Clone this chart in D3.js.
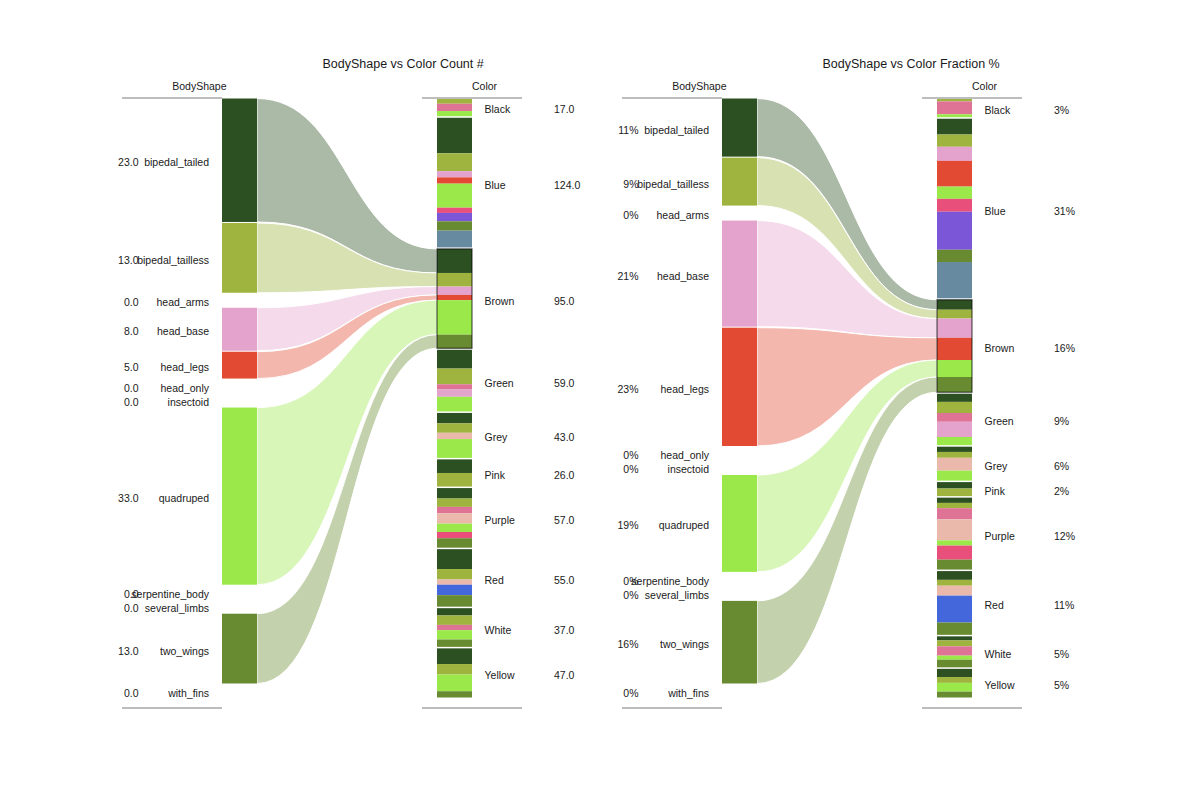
<!DOCTYPE html>
<html><head><meta charset="utf-8">
<script src="https://cdn.jsdelivr.net/npm/d3@7"></script>
<style>
body{margin:0;background:#fff;}
text{font-family:"Liberation Sans",Arial,Helvetica,sans-serif;fill:#1a1a1a;}
</style></head>
<body><svg id="c" width="1188" height="810"></svg>
<script>
// ---------- DATA ----------
const bodyShapes = ["bipedal_tailed","bipedal_tailless","head_arms","head_base","head_legs","head_only","insectoid","quadruped","serpentine_body","several_limbs","two_wings","with_fins"];
const shapeColors = ["#2d5023","#9eb43f","#de7396","#e3a3cd","#e24a33","#ebb8ac","#4567dc","#9be84b","#e94f7b","#7b56d6","#688b31","#678aa0"];
const colorNames = ["Black","Blue","Brown","Green","Grey","Pink","Purple","Red","White","Yellow"];
const highlightColor = "Brown";

// counts per colour, columns in bodyShapes order
const countRows = [
  [0,5,7,0,0,0,0,5,0,0,0,0],        // Black
  [34,17,0,6,6,0,0,23,5,8,9,16],    // Blue
  [23,13,0,8,5,0,0,33,0,0,13,0],    // Brown
  [18,15,5,7,0,0,0,14,0,0,0,0],     // Green
  [10,9,0,0,0,6,0,18,0,0,0,0],      // Grey
  [13,13,0,0,0,0,0,0,0,0,0,0],      // Pink
  [10,8,6,0,0,10,0,8,6,0,9,0],      // Purple
  [19,10,0,0,0,5,10,0,0,0,11,0],    // Red
  [7,9,5,0,0,0,0,9,0,0,7,0],        // White
  [15,10,0,0,0,0,0,16,0,0,6,0]      // Yellow
];
const countLeft = [23,13,0,8,5,0,0,33,0,0,13,0];

// fractions (%) per colour, columns in bodyShapes order
const fracRows = [
  [0,0.5,2.2,0,0,0,0,0.5,0,0,0,0],
  [2.7,2.1,0,2.4,4.4,0,0,2.1,2.2,6.5,2.1,6.2],
  [1.7,1.5,0,3.3,3.8,0,0,2.9,0,0,2.6,0],
  [1.4,1.9,1.5,2.6,0,0,0,1.4,0,0,0,0],
  [0.9,1.0,0,0,0,2.2,0,1.7,0,0,0,0],
  [1.1,1.3,0,0,0,0,0,0,0,0,0,0],
  [0.9,0.9,1.9,0,0,3.6,0,0.9,2.4,0,1.7,0],
  [1.5,1.0,0,0,0,1.7,4.6,0,0,0,2.1,0],
  [0.7,1.0,1.6,0,0,0,0,0.7,0,0,1.3,0],
  [1.4,1.0,0,0,0,0,0,1.5,0,0,1.0,0]
];
const fracLeft = [11.4,9.4,0,20.8,23.2,0,0,19.0,0,0,16.2,0];

// ---------- DRAW ----------
const svg = d3.select("#c");
const shapeColor = d3.scaleOrdinal().domain(bodyShapes).range(shapeColors);

function panel(ox, title, leftVals, rows, fmt){
  const g = svg.append("g").attr("transform", `translate(${ox},0)`);
  const top = 98.5, bottom = 697.5;
  const lx0 = 222, lx1 = 257, rx0 = 437, rx1 = 472;

  // left column layout
  const zeroH = 13, lgap = 1;
  const nZero = leftVals.filter(v => v === 0).length;
  const lTotal = d3.sum(leftVals);
  const lk = d3.scaleLinear().domain([0, lTotal])
    .range([0, (bottom - top) - nZero*zeroH - (leftVals.length-1)*lgap]);
  let y = top;
  const leftBoxes = leftVals.map((v,i) => {
    const h = v === 0 ? zeroH : lk(v);
    const b = {i, v, y0: y, y1: y + h};
    y += h + lgap;
    return b;
  });

  // right column layout
  const rgap = 1.5;
  const totals = rows.map(r => d3.sum(r));
  const rk = d3.scaleLinear().domain([0, d3.sum(totals)])
    .range([0, (bottom - top) - (rows.length-1)*rgap]);
  let yy = top;
  const rightBoxes = rows.map((r,ci) => {
    const b = {ci, y0: yy, y1: yy + rk(totals[ci]), segs: []};
    let s = yy;
    r.forEach((v,i) => { if (v > 0) { b.segs.push({i, y0: s, y1: s + rk(v)}); s += rk(v); } });
    yy = b.y1 + rgap;
    return b;
  });
  const hi = rightBoxes[colorNames.indexOf(highlightColor)];

  // flows
  const xm = (lx1 + rx0) / 2;
  hi.segs.forEach(s => {
    const lb = leftBoxes[s.i];
    const p = d3.path();
    p.moveTo(lx1, lb.y0);
    p.bezierCurveTo(xm, lb.y0, xm, s.y0, rx0, s.y0);
    p.lineTo(rx0, s.y1);
    p.bezierCurveTo(xm, s.y1, xm, lb.y1, lx1, lb.y1);
    p.closePath();
    g.append("path").attr("d", p.toString())
      .attr("fill", shapeColor(bodyShapes[s.i])).attr("fill-opacity", 0.4)
      .attr("stroke", "#fff").attr("stroke-width", 1);
  });

  // left bars
  leftBoxes.filter(b => b.v > 0).forEach(b => {
    g.append("rect").attr("x", lx0).attr("y", b.y0).attr("width", lx1 - lx0)
      .attr("height", b.y1 - b.y0).attr("fill", shapeColor(bodyShapes[b.i]));
  });
  // left labels
  leftBoxes.forEach(b => {
    const cy = (b.y0 + b.y1) / 2 + 6;
    g.append("text").attr("x", 138.5).attr("y", cy).attr("text-anchor","end")
      .style("font-size","10.5px").text(fmt(b.v));
    g.append("text").attr("x", 209).attr("y", cy).attr("text-anchor","end")
      .style("font-size","10.5px").text(bodyShapes[b.i]);
  });

  // right stacked bars
  rightBoxes.forEach(b => {
    b.segs.forEach(s => {
      g.append("rect").attr("x", rx0).attr("y", s.y0).attr("width", rx1 - rx0)
        .attr("height", s.y1 - s.y0).attr("fill", shapeColor(bodyShapes[s.i]));
    });
    const cy = (b.y0 + b.y1) / 2 + 6;
    g.append("text").attr("x", 484.5).attr("y", cy).style("font-size","10.5px").text(colorNames[b.ci]);
    g.append("text").attr("x", 554).attr("y", cy).style("font-size","10.5px").text(fmt(totals[b.ci]));
  });
  g.append("rect").attr("x", rx0).attr("y", hi.y0).attr("width", rx1 - rx0)
    .attr("height", hi.y1 - hi.y0).attr("fill","none")
    .attr("stroke","#000").attr("stroke-opacity",0.65).attr("stroke-width",1.2);

  // axis lines
  [[122,222],[422,522]].forEach(([a,c]) => {
    [98, 708].forEach(yl => {
      g.append("line").attr("x1",a).attr("x2",c).attr("y1",yl).attr("y2",yl)
        .attr("stroke","#bdbdbd").attr("stroke-width",2);
    });
  });
  // headers
  g.append("text").attr("x",199.4).attr("y",90).attr("text-anchor","middle").style("font-size","10.5px").text("BodyShape");
  g.append("text").attr("x",484.5).attr("y",90).attr("text-anchor","middle").style("font-size","10.5px").text("Color");
  g.append("text").attr("x",322.5).attr("y",68).style("font-size","12.5px").text(title);
}

panel(0, "BodyShape vs Color Count #", countLeft, countRows, v => d3.format(".1f")(v));
panel(500, "BodyShape vs Color Fraction %", fracLeft, fracRows, v => Math.round(v) + "%");
</script></body></html>
